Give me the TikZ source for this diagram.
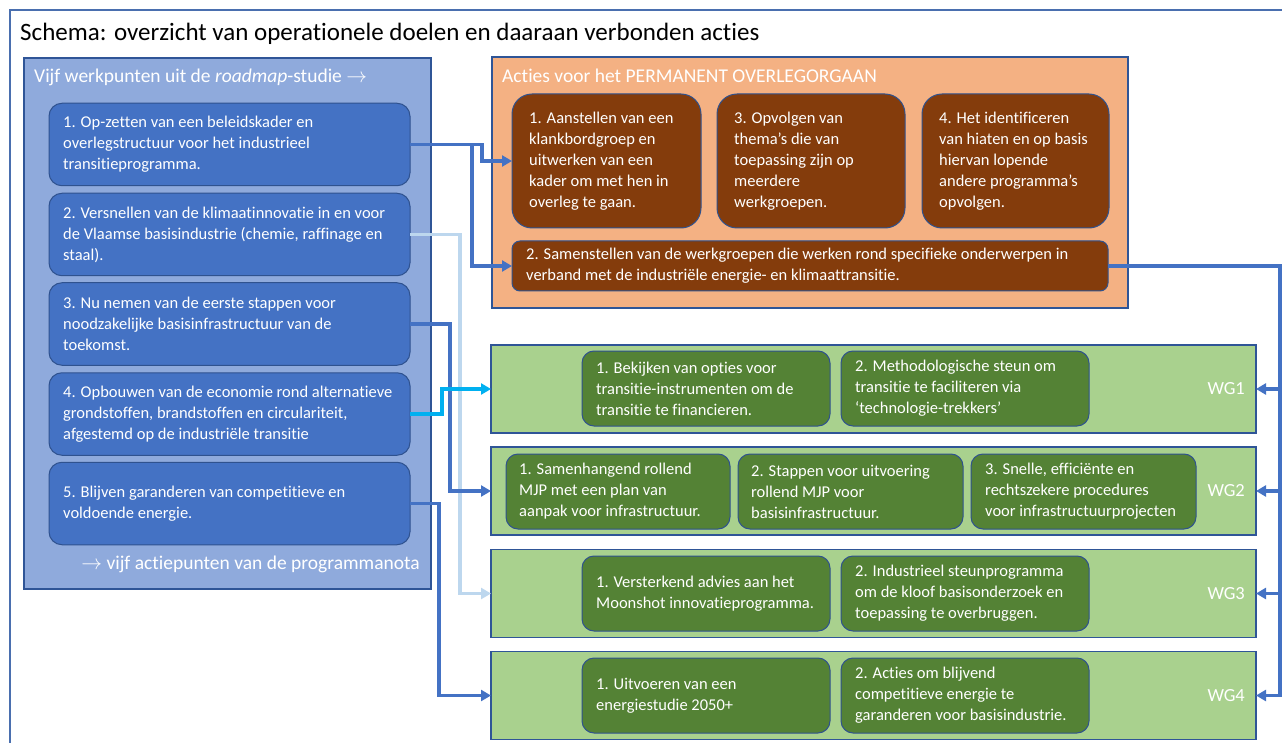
\documentclass[tikz,border=0pt]{standalone}
\usepackage{fontspec}
\setmainfont{Carlito}[Ligatures=NoCommon]
\usetikzlibrary{arrows.meta,calc}
\definecolor{frameblue}{HTML}{4A6FAF}
\definecolor{lpfill}{HTML}{8FAADC}
\definecolor{panelborder}{HTML}{2F5597}
\definecolor{bluefill}{HTML}{4472C4}
\definecolor{boxborder}{HTML}{2F528F}
\definecolor{orfill}{HTML}{F4B183}
\definecolor{brownfill}{HTML}{843C0C}
\definecolor{greenrow}{HTML}{A9D18E}
\definecolor{greenbox}{HTML}{548235}
\definecolor{connblue}{HTML}{4472C4}
\definecolor{connlight}{HTML}{BDD7EE}
\definecolor{conncyan}{HTML}{00B0F0}
\begin{document}
\begin{tikzpicture}[x=1pt,y=-1pt,
  panel/.style={draw=panelborder,line width=1.3pt,inner sep=0pt,outer sep=0pt},
  leftpanel/.style={panel,fill=lpfill},
  orpanel/.style={panel,fill=orfill},
  wgrow/.style={panel,fill=greenrow,minimum width=765pt,minimum height=88pt},
  card/.style={draw=boxborder,line width=1pt,inner sep=0pt,outer sep=0pt},
  bluebox/.style={card,fill=bluefill,rounded corners=13pt,minimum width=361pt,minimum height=82.5pt},
  brownbox/.style={card,fill=brownfill,rounded corners=20pt,minimum height=134pt},
  longbox/.style={card,fill=brownfill,rounded corners=8pt},
  greenbox/.style={card,fill=greenbox,rounded corners=12pt,minimum height=75pt},
  txt/.style={anchor=west,align=left,text=white,inner sep=0pt,font=\fontsize{16.5}{21}\selectfont},
  head/.style={anchor=base west,text=white,inner sep=0pt,font=\fontsize{19.5}{23}\selectfont},
  wglabel/.style={anchor=east,text=white,inner sep=0pt,font=\fontsize{18.5}{21}\selectfont},
  conn/.style={line width=3.4pt,draw=connblue,-{Triangle[length=10pt,width=11pt]},line join=miter},
  connl/.style={conn,draw=connlight},
  connc/.style={conn,draw=conncyan}
]
\useasboundingbox (0,0) rectangle (1282,743);
\fill[white] (0,0) rectangle (1282,743);
% outer frame (right and bottom sides fall outside the picture)
\draw[frameblue,line width=1.3pt] (1282,10) -- (10,10) -- (10,743);
\node[anchor=base west,inner sep=0pt,font=\fontsize{25}{28}\selectfont] (title) at (20,40.5)
  {Schema: overzicht van operationele doelen en daaraan verbonden acties};

% left panel
\node[leftpanel,minimum width=407pt,minimum height=531pt] (lp) at (227.5,323.5) {};
\node[head] (lph) at (34,82.5) {Vijf werkpunten uit de \textit{roadmap}-studie $\rightarrow$};
\node[head,anchor=base east] (lpf) at (420,569) {$\rightarrow$ vijf actiepunten van de programmanota};

\node[bluebox] (b1) at (229.5,144.5) {};
\node[bluebox] (b2) at (229.5,234.5) {};
\node[bluebox] (b3) at (229.5,324) {};
\node[bluebox] (b4) at (229.5,414) {};
\node[bluebox] (b5) at (229.5,503.5) {};
\node[txt] (b1t) at ([xshift=14pt]b1.west) {1. Op-zetten van een beleidskader en\\overlegstructuur voor het industrieel\\transitieprogramma.};
\node[txt] (b2t) at ([xshift=14pt]b2.west) {2. Versnellen van de klimaatinnovatie in en voor\\de Vlaamse basisindustrie (chemie, raffinage en\\staal).};
\node[txt] (b3t) at ([xshift=14pt]b3.west) {3. Nu nemen van de eerste stappen voor\\noodzakelijke basisinfrastructuur van de\\toekomst.};
\node[txt] (b4t) at ([xshift=14pt]b4.west) {4. Opbouwen van de economie rond alternatieve\\grondstoffen, brandstoffen en circulariteit,\\afgestemd op de industriële transitie};
\node[txt] (b5t) at ([xshift=14pt]b5.west) {5. Blijven garanderen van competitieve en\\voldoende energie.};

% orange panel
\node[orpanel,minimum width=636pt,minimum height=251pt] (op) at (810,182.5) {};
\node[head] (oph) at (502,82.5) {Acties voor het PERMANENT OVERLEGORGAAN};
\node[brownbox,minimum width=189pt] (pA) at (606.5,161) {};
\node[brownbox,minimum width=188pt] (pB) at (811,161) {};
\node[brownbox,minimum width=187pt] (pC) at (1015.5,161) {};
\node[longbox,minimum width=596pt,minimum height=50pt] (pL) at (810,266) {};
\node[txt] (pAt) at ([xshift=17pt]pA.west) {1. Aanstellen van een\\klankbordgroep en\\uitwerken van een\\kader om met hen in\\overleg te gaan.};
\node[txt] (pBt) at ([xshift=17pt]pB.west) {3. Opvolgen van\\thema’s die van\\toepassing zijn op\\meerdere\\werkgroepen.};
\node[txt] (pCt) at ([xshift=17pt]pC.west) {4. Het identificeren\\van hiaten en op basis\\hiervan lopende\\andere programma’s\\opvolgen.};
\node[txt] (pLt) at ([xshift=14pt]pL.west) {2. Samenstellen van de werkgroepen die werken rond specifieke onderwerpen in\\verband met de industriële energie- en klimaattransitie.};

% working groups
\node[wgrow] (wg1) at (873.5,389) {};
\node[wgrow] (wg2) at (873.5,491) {};
\node[wgrow] (wg3) at (873.5,593.5) {};
\node[wgrow] (wg4) at (873.5,695.5) {};
\node[wglabel] (wg1l) at (1245,389) {WG1};
\node[wglabel] (wg2l) at (1245,491) {WG2};
\node[wglabel] (wg3l) at (1245,593.5) {WG3};
\node[wglabel] (wg4l) at (1245,695.5) {WG4};

\node[greenbox,minimum width=248pt] (g1a) at (706,388.5) {};
\node[greenbox,minimum width=248pt] (g1b) at (965,388.5) {};
\node[greenbox,minimum width=224pt] (g2a) at (618,491.5) {};
\node[greenbox,minimum width=225pt] (g2b) at (850.5,491.5) {};
\node[greenbox,minimum width=225pt] (g2c) at (1083.5,491.5) {};
\node[greenbox,minimum width=248pt] (g3a) at (706,593.5) {};
\node[greenbox,minimum width=248pt] (g3b) at (965,593.5) {};
\node[greenbox,minimum width=248pt] (g4a) at (706,695.5) {};
\node[greenbox,minimum width=248pt] (g4b) at (965,695.5) {};
\node[txt] (g1at) at ([xshift=14pt]g1a.west) {1. Bekijken van opties voor\\transitie-instrumenten om de\\transitie te financieren.};
\node[txt] (g1bt) at ([xshift=14pt]g1b.west) {2. Methodologische steun om\\transitie te faciliteren via\\‘technologie-trekkers’};
\node[txt] (g2at) at ([xshift=13pt]g2a.west) {1. Samenhangend rollend\\MJP met een plan van\\aanpak voor infrastructuur.};
\node[txt] (g2bt) at ([xshift=13pt]g2b.west) {2. Stappen voor uitvoering\\rollend MJP voor\\basisinfrastructuur.};
\node[txt] (g2ct) at ([xshift=14pt]g2c.west) {3. Snelle, efficiënte en\\rechtszekere procedures\\voor infrastructuurprojecten};
\node[txt] (g3at) at ([xshift=14pt]g3a.west) {1. Versterkend advies aan het\\Moonshot innovatieprogramma.};
\node[txt] (g3bt) at ([xshift=14pt]g3b.west) {2. Industrieel steunprogramma\\om de kloof basisonderzoek en\\toepassing te overbruggen.};
\node[txt] (g4at) at ([xshift=14pt]g4a.west) {1. Uitvoeren van een\\energiestudie 2050+};
\node[txt] (g4bt) at ([xshift=14pt]g4b.west) {2. Acties om blijvend\\competitieve energie te\\garanderen voor basisindustrie.};

% connectors
\draw[connl] (b2.east) -- ++(50,0) |- (wg3.west);
\draw[conn] (b1.east) -- ++(72,0) |- (pA.west);
\draw[conn] (b1.east) -- ++(62,0) |- (pL.west);
\draw[conn] (b3.east) -- ++(40,0) |- (wg2.west);
\draw[connc] (b4.east) -- ++(32,0) |- (wg1.west);
\draw[conn] (b5.east) -- ++(29,0) |- (wg4.west);
\coordinate (rail) at (1280,266);
\draw[conn] (pL.east) -- (rail) |- (wg1.east);
\draw[conn] (pL.east) -- (rail) |- (wg2.east);
\draw[conn] (pL.east) -- (rail) |- (wg3.east);
\draw[conn] (pL.east) -- (rail) |- (wg4.east);
\end{tikzpicture}
\end{document}
